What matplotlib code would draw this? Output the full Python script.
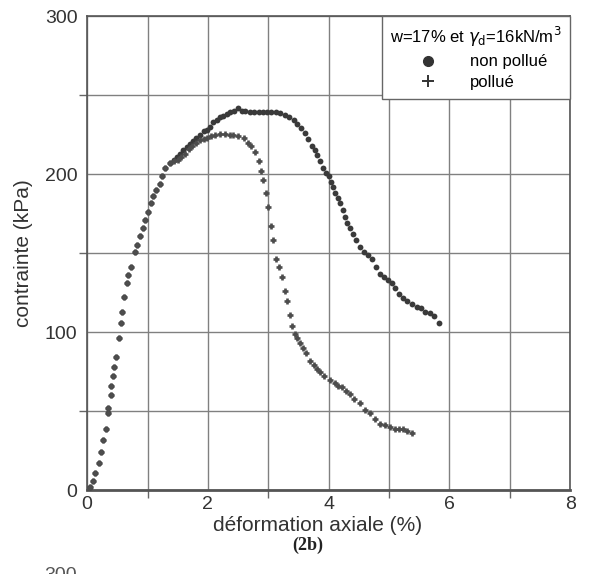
import numpy as np
import matplotlib
matplotlib.use("Agg")
import matplotlib.pyplot as plt
from matplotlib.lines import Line2D

plt.rcParams["font.family"] = ["Liberation Sans", "DejaVu Sans"]

# partie commune (montée)
montee_x = [0.00, 0.05, 0.10, 0.13, 0.19, 0.23, 0.27, 0.32, 0.35, 0.35, 0.39, 0.39,
            0.43, 0.44, 0.48, 0.52, 0.56, 0.58, 0.61, 0.66, 0.68, 0.72, 0.79, 0.83,
            0.88, 0.92, 0.96, 1.00, 1.05, 1.09, 1.14, 1.20, 1.24, 1.29, 1.37]
montee_y = [0, 2, 6, 11, 17, 24, 32, 39, 49, 52, 60, 66,
            72, 78, 84, 96, 106, 113, 122, 131, 136, 141, 151, 155,
            161, 166, 171, 176, 182, 186, 190, 194, 199, 204, 207]

# non pollué
np_x = [1.44, 1.49, 1.54, 1.59, 1.65, 1.70, 1.75, 1.80, 1.87, 1.93, 1.98, 2.04, 2.09,
        2.15, 2.20, 2.25, 2.31, 2.37, 2.43, 2.50, 2.56, 2.62, 2.70, 2.77, 2.84, 2.91,
        2.98, 3.05, 3.12, 3.20, 3.27, 3.34, 3.42, 3.48, 3.55, 3.61, 3.66, 3.72, 3.77,
        3.81, 3.86, 3.91, 3.96, 4.00, 4.04, 4.07, 4.11, 4.15, 4.19, 4.23, 4.27, 4.30,
        4.35, 4.40, 4.46, 4.52, 4.58, 4.65, 4.72, 4.78, 4.85, 4.92, 4.98, 5.05, 5.10,
        5.17, 5.23, 5.30, 5.38, 5.46, 5.53, 5.60, 5.68, 5.75, 5.83]
np_y = [209, 211, 213, 215, 217, 219, 221, 223, 225, 227, 228, 230, 233,
        234, 236, 237, 238, 239, 240, 242, 240, 240, 239.5, 239.5, 239.5, 239.5,
        239.5, 239, 239, 238.5, 237.5, 236, 234, 232, 229, 226, 222, 218, 215,
        212, 208, 204, 201, 199, 195, 192, 188, 185, 182, 177, 173, 169,
        166, 162, 158, 154, 151, 149, 146, 141, 137, 135, 133, 131, 128,
        124, 121.5, 120, 118, 116, 115, 113, 112, 110, 106]

# pollué
p_x = [1.44, 1.50, 1.56, 1.62, 1.68, 1.74, 1.80, 1.87, 1.93, 1.98, 2.05, 2.12, 2.20,
       2.28, 2.36, 2.42, 2.50, 2.59, 2.66, 2.72, 2.78, 2.84, 2.88, 2.92, 2.97, 3.00,
       3.05, 3.08, 3.12, 3.18, 3.23, 3.28, 3.31, 3.36, 3.40, 3.44, 3.48, 3.53, 3.57,
       3.62, 3.69, 3.75, 3.80, 3.86, 3.93, 4.02, 4.10, 4.16, 4.22, 4.29, 4.35, 4.42,
       4.52, 4.60, 4.69, 4.77, 4.85, 4.93, 5.02, 5.10, 5.16, 5.23, 5.30, 5.38]
p_y = [208, 209, 211, 213, 216, 218, 220, 221.5, 222.5, 223, 224, 225, 225.5,
       225.5, 225, 224.7, 224, 222.6, 220, 218, 214, 208, 202, 196, 188, 179,
       167, 158, 146, 141, 135, 126, 120, 111, 104, 99, 96, 93, 90,
       87, 82, 79, 77, 75, 72, 70, 68, 66, 65, 63, 61, 58,
       55, 51, 49, 45, 42, 41, 40, 39, 39, 38.5, 37.5, 36]

x_non_pollue = montee_x + np_x
y_non_pollue = montee_y + np_y
x_pollue = montee_x + p_x
y_pollue = montee_y + p_y

fig = plt.figure(figsize=(5.89, 5.74), dpi=100)
ax = fig.add_axes([0.148, 0.146, 0.82, 0.826])

ax.plot(x_non_pollue, y_non_pollue, "o", ms=4.2, color="#3a3a3a", mec="none", zorder=3)
ax.plot(x_pollue, y_pollue, "+", ms=4.5, mew=1.9, color="#4d4d4d", zorder=3)

ax.set_xlim(0, 8)
ax.set_ylim(0, 300)
ax.set_xticks([0, 2, 4, 6, 8])
ax.set_yticks([0, 100, 200, 300])
ax.set_xticks([1, 3, 5, 7], minor=True)
ax.set_yticks([50, 150, 250], minor=True)
ax.tick_params(which="major", length=0, labelsize=14, colors="#333333")
ax.tick_params(axis="x", which="major", pad=4)
ax.tick_params(axis="y", which="major", pad=7)
ax.tick_params(which="minor", length=6, width=1, color="#666666", direction="out")
ax.grid(True, which="both", color="#808080", lw=1)
ax.set_axisbelow(True)
for s in ax.spines.values():
    s.set_color("#555555")
    s.set_linewidth(1.2)
ax.spines["bottom"].set_linewidth(2)

ax.set_xlabel("déformation axiale (%)", fontsize=15, color="#333333")
ax.xaxis.set_label_coords(0.478, -0.055)
ax.set_ylabel("contrainte (kPa)", fontsize=15, color="#333333")
ax.yaxis.set_label_coords(-0.112, 0.5)
fig.text(0.522, 0.05, "(2b)", fontsize=13, fontweight="bold",
         family="Liberation Serif", ha="center", va="center", color="#222222")
fig.text(0.131, 0.012, "300", fontsize=14, ha="right", va="top", color="#555555")

handles = [Line2D([], [], ls="none", marker="o", ms=7, color="#333333"),
           Line2D([], [], ls="none", marker="+", ms=9, mew=1.4, color="#333333")]
leg = ax.legend(handles, ["non pollué", "pollué"],
                title=r"w=17% et $\gamma_{\rm d}$=16kN/m$^3$",
                loc="upper right", bbox_to_anchor=(1.0, 1.0),
                fontsize=12, title_fontsize=12, fancybox=False, framealpha=1,
                edgecolor="#666666", handlelength=2.75, handletextpad=1.15,
                borderpad=0.5, labelspacing=0.35, borderaxespad=0)
leg.get_frame().set_linewidth(1)
leg.set_zorder(5)

fig.savefig("out.png", dpi=100)
